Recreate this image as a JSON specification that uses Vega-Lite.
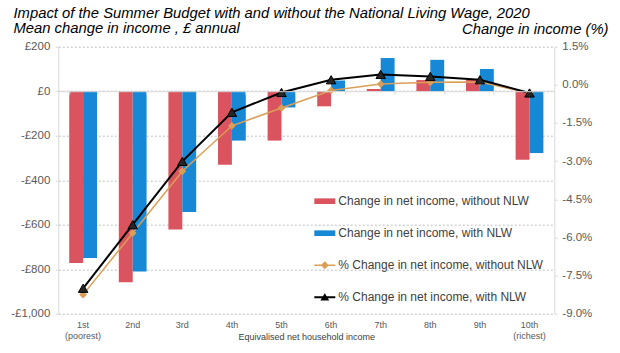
{
  "$schema": "https://vega.github.io/schema/vega-lite/v6.json",
  "width": 496,
  "height": 267,
  "autosize": {"type": "none"},
  "padding": {"left": 58.3, "top": 46.7, "right": 65.7, "bottom": 39.3},
  "background": "white",
  "config": {
    "font": "Liberation Sans",
    "view": {"stroke": null},
    "axis": {"labelFont": "Liberation Sans", "titleFont": "Liberation Sans"},
    "legend": {"labelFont": "Liberation Sans"}
  },
  "datasets": {
    "bars": [
      {"decile": "1st", "series": "Change in net income, without NLW", "value": -772},
      {"decile": "1st", "series": "Change in net income, with NLW", "value": -750},
      {"decile": "2nd", "series": "Change in net income, without NLW", "value": -859},
      {"decile": "2nd", "series": "Change in net income, with NLW", "value": -810},
      {"decile": "3rd", "series": "Change in net income, without NLW", "value": -622},
      {"decile": "3rd", "series": "Change in net income, with NLW", "value": -543},
      {"decile": "4th", "series": "Change in net income, without NLW", "value": -330},
      {"decile": "4th", "series": "Change in net income, with NLW", "value": -222},
      {"decile": "5th", "series": "Change in net income, without NLW", "value": -222},
      {"decile": "5th", "series": "Change in net income, with NLW", "value": -73},
      {"decile": "6th", "series": "Change in net income, without NLW", "value": -68},
      {"decile": "6th", "series": "Change in net income, with NLW", "value": 48},
      {"decile": "7th", "series": "Change in net income, without NLW", "value": 10},
      {"decile": "7th", "series": "Change in net income, with NLW", "value": 149},
      {"decile": "8th", "series": "Change in net income, without NLW", "value": 50},
      {"decile": "8th", "series": "Change in net income, with NLW", "value": 141},
      {"decile": "9th", "series": "Change in net income, without NLW", "value": 52},
      {"decile": "9th", "series": "Change in net income, with NLW", "value": 100},
      {"decile": "10th", "series": "Change in net income, without NLW", "value": -308},
      {"decile": "10th", "series": "Change in net income, with NLW", "value": -278}
    ],
    "lines": [
      {"decile": "1st", "series": "% Change in net income, without NLW", "pct": -8.25},
      {"decile": "2nd", "series": "% Change in net income, without NLW", "pct": -5.83},
      {"decile": "3rd", "series": "% Change in net income, without NLW", "pct": -3.4},
      {"decile": "4th", "series": "% Change in net income, without NLW", "pct": -1.61},
      {"decile": "5th", "series": "% Change in net income, without NLW", "pct": -0.91},
      {"decile": "6th", "series": "% Change in net income, without NLW", "pct": -0.22},
      {"decile": "7th", "series": "% Change in net income, without NLW", "pct": 0.03},
      {"decile": "8th", "series": "% Change in net income, without NLW", "pct": 0.1},
      {"decile": "9th", "series": "% Change in net income, without NLW", "pct": 0.11},
      {"decile": "10th", "series": "% Change in net income, without NLW", "pct": -0.32},
      {"decile": "1st", "series": "% Change in net income, with NLW", "pct": -8.0},
      {"decile": "2nd", "series": "% Change in net income, with NLW", "pct": -5.5},
      {"decile": "3rd", "series": "% Change in net income, with NLW", "pct": -3.01},
      {"decile": "4th", "series": "% Change in net income, with NLW", "pct": -1.08},
      {"decile": "5th", "series": "% Change in net income, with NLW", "pct": -0.3},
      {"decile": "6th", "series": "% Change in net income, with NLW", "pct": 0.2},
      {"decile": "7th", "series": "% Change in net income, with NLW", "pct": 0.41},
      {"decile": "8th", "series": "% Change in net income, with NLW", "pct": 0.33},
      {"decile": "9th", "series": "% Change in net income, with NLW", "pct": 0.2},
      {"decile": "10th", "series": "% Change in net income, with NLW", "pct": -0.32}
    ]
  },
  "layer": [
    {
      "data": {"name": "bars"},
      "mark": {"type": "bar"},
      "encoding": {
        "x": {
          "field": "decile", "type": "nominal",
          "sort": ["1st", "2nd", "3rd", "4th", "5th", "6th", "7th", "8th", "9th", "10th"],
          "scale": {"paddingInner": 0.44, "paddingOuter": 0.22},
          "axis": {
            "orient": "bottom", "offset": -222.5, "labels": false, "title": null,
            "grid": false, "domain": true, "domainColor": "#D9D9D9", "domainWidth": 1,
            "ticks": true, "tickBand": "extent", "tickSize": 3, "tickColor": "#D9D9D9",
            "tickOffset": 10.9, "zindex": 1
          }
        },
        "xOffset": {"field": "series", "type": "nominal", "sort": ["Change in net income, without NLW", "Change in net income, with NLW"]},
        "y": {
          "field": "value", "type": "quantitative",
          "scale": {"domain": [-1000, 200], "nice": false, "zero": false},
          "axis": {
            "orient": "left",
            "values": [-1000, -800, -600, -400, -200, 0, 200],
            "labelExpr": "(datum.value < 0 ? '-' : '') + '£' + format(abs(datum.value), ',')",
            "labelFontSize": 11.5, "labelColor": "#595959", "labelPadding": 5.5,
            "grid": true, "gridColor": "#BFBFBF", "gridDash": [2, 2], "gridWidth": 1,
            "domain": true, "domainColor": "#D9D9D9", "ticks": true, "tickSize": 3, "tickColor": "#D9D9D9",
            "title": ["Impact of the Summer Budget with and without the National Living Wage, 2020", "Mean change in income , £ annual"],
            "titleAngle": 0, "titleAlign": "left", "titleBaseline": "alphabetic",
            "titleX": -45.3, "titleY": -29.7, "titleFontStyle": "italic", "titleFontWeight": "normal",
            "titleFontSize": 14.8, "titleColor": "#000000", "titleLineHeight": 15.5, "titleLimit": 1000
          }
        },
        "color": {
          "field": "series", "type": "nominal",
          "scale": {
            "domain": ["Change in net income, without NLW", "Change in net income, with NLW", "% Change in net income, without NLW", "% Change in net income, with NLW"],
            "range": ["#D9545F", "#1688D6", "#DB9E56", "#000000"]
          },
          "legend": {
            "title": null, "orient": "none", "legendX": 256, "legendY": 144,
            "padding": 0, "rowPadding": 15, "labelFontSize": 12, "labelColor": "#404040",
            "labelOffset": 3, "symbolSize": 441, "labelLimit": 400,
            "encode": {
              "symbols": {
                "update": {
                  "shape": {"signal": "datum.index <= 1 ? 'M-1,-0.27H1V0.27H-1Z' : datum.index == 2 ? 'M-1,-0.07H1V0.07H-1Z M0,-0.38L0.38,0L0,0.38L-0.38,0Z' : 'M-1,-0.09H1V0.09H-1Z M0,-0.38L0.42,0.32L-0.42,0.32Z'"},
                  "fill": {"scale": "color", "field": "value"},
                  "stroke": {"value": "transparent"},
                  "strokeWidth": {"value": 0},
                  "size": {"value": 441},
                  "opacity": {"value": 1}
                }
              }
            }
          }
        }
      }
    },
    {
      "data": {"name": "lines"},
      "encoding": {
        "x": {
          "field": "decile", "type": "nominal",
          "sort": ["1st", "2nd", "3rd", "4th", "5th", "6th", "7th", "8th", "9th", "10th"],
          "axis": {
            "orient": "bottom", "domain": false, "ticks": false, "tickSize": 0, "grid": false,
            "labelAngle": 0,
            "labelExpr": "datum.value == '1st' ? ['1st', '(poorest)'] : datum.value == '10th' ? ['10th', '(richest)'] : datum.value",
            "labelFontSize": 9, "labelColor": "#595959", "labelPadding": 7, "labelLineHeight": 11,
            "title": "Equivalised  net household income", "titleFontSize": 9, "titleFontWeight": "normal",
            "titleColor": "#404040", "titleY": 18.5, "titleBaseline": "top"
          }
        },
        "y": {
          "field": "pct", "type": "quantitative",
          "scale": {"domain": [-9, 1.5], "nice": false, "zero": false},
          "axis": {
            "orient": "right",
            "values": [-9, -7.5, -6, -4.5, -3, -1.5, 0, 1.5],
            "labelExpr": "(datum.value < 0 ? '-' : '') + format(abs(datum.value), '.1f') + '%'",
            "labelFontSize": 11.5, "labelColor": "#595959", "labelPadding": 4.5,
            "grid": false, "domain": true, "domainColor": "#D9D9D9", "ticks": true, "tickSize": 3, "tickColor": "#D9D9D9",
            "title": "Change in income (%)",
            "titleAngle": 0, "titleAlign": "right", "titleBaseline": "alphabetic",
            "titleX": 53.7, "titleY": -13.7, "titleFontStyle": "italic", "titleFontWeight": "normal",
            "titleFontSize": 14.8, "titleColor": "#000000", "titleLimit": 1000
          }
        },
        "color": {"field": "series", "type": "nominal"}
      },
      "layer": [
        {
          "transform": [{"filter": "datum.series == '% Change in net income, without NLW'"}],
          "mark": {"type": "line", "strokeWidth": 1.5}
        },
        {
          "transform": [{"filter": "datum.series == '% Change in net income, with NLW'"}],
          "mark": {"type": "line", "strokeWidth": 2}
        },
        {
          "transform": [{"filter": "datum.series == '% Change in net income, without NLW'"}],
          "mark": {"type": "point", "shape": "diamond", "filled": true, "size": 60, "opacity": 1}
        },
        {
          "transform": [{"filter": "datum.series == '% Change in net income, with NLW'"}],
          "mark": {"type": "point", "shape": "triangle-up", "filled": true, "size": 90, "opacity": 1, "fill": "#262626", "stroke": "#000000", "strokeWidth": 1}
        }
      ]
    }
  ],
  "resolve": {"scale": {"y": "independent"}, "axis": {"x": "independent"}}
}
